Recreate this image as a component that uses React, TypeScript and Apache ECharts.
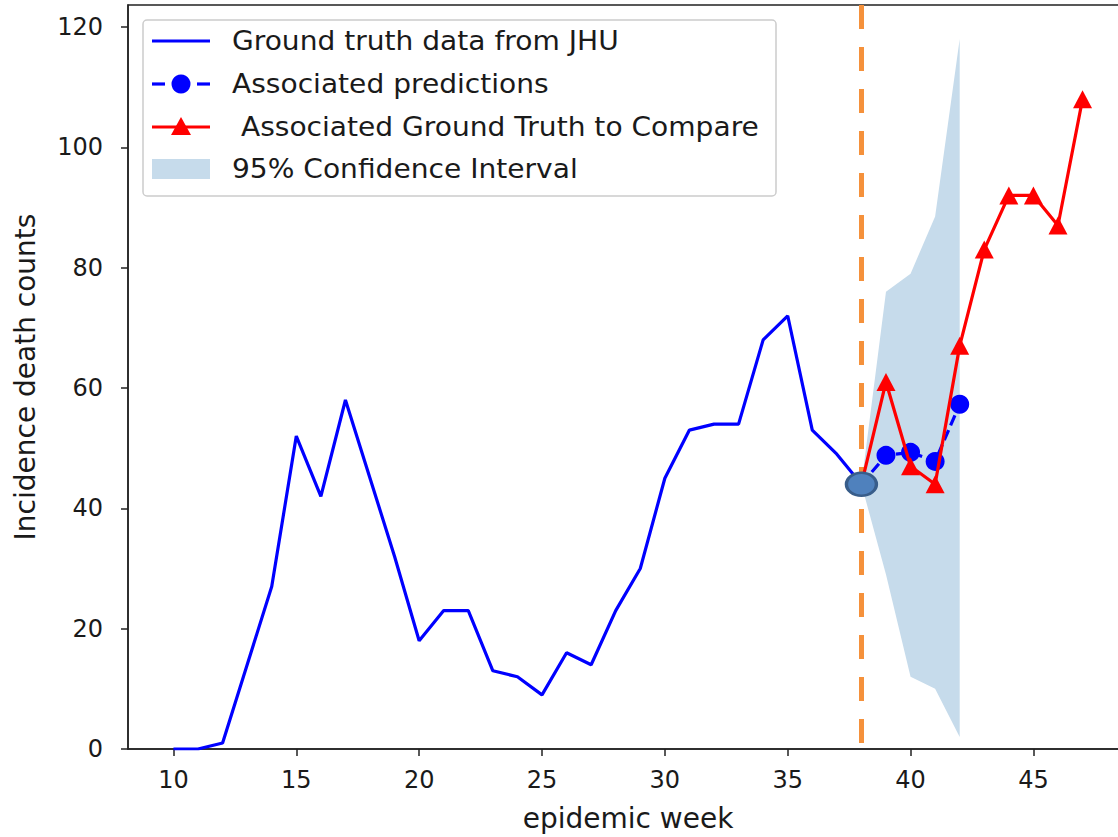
import React, { useEffect, useRef } from "react";
import * as echarts from "echarts";

// Weekly incidence deaths (JHU ground truth)
const truthWeeks = [10, 11, 12, 13, 14, 15, 16, 17, 18, 19, 20, 21, 22, 23, 24, 25, 26, 27, 28, 29, 30, 31, 32, 33, 34, 35, 36, 37, 38];
const truthDeaths = [0, 0, 1, 14, 27, 52, 42, 58, 45, 32, 18, 23, 23, 13, 12, 9, 16, 14, 23, 30, 45, 53, 54, 54, 68, 72, 53, 49, 44];

// Forecast made at week 38
const predWeeks = [38, 39, 40, 41, 42];
const predDeaths = [44, 48.8, 49.3, 47.8, 57.3];
const ciLower = [44, 29, 12, 10, 2];
const ciUpper = [44, 76, 79, 88.5, 118];

// Observed values for the forecast horizon
const compareWeeks = [38, 39, 40, 41, 42, 43, 44, 45, 46, 47];
const compareDeaths = [44, 61, 47, 44, 67, 83, 92, 92, 87, 108];

const forecastWeek = 38;
const xTicks = [10, 15, 20, 25, 30, 35, 40, 45];
const yTicks = [0, 20, 40, 60, 80, 100, 120];

const legendLabels = [
  "Ground truth data from JHU",
  "Associated predictions",
  " Associated Ground Truth to Compare",
  "95% Confidence Interval",
];

const FONT = "'DejaVu Sans', Verdana, sans-serif";
const TEXT = "#1a1a1a";
const CI_FILL = "#c6dbeb";

export default function App() {
  const ref = useRef<HTMLDivElement>(null);

  useEffect(() => {
    if (!ref.current) return;
    const chart = echarts.init(ref.current, undefined, { renderer: "svg" });

    const ciData = predWeeks.map((w, i) => [w, ciLower[i], ciUpper[i]]);

    const legendX = 152;
    const rowY = [41, 84, 127, 169];

    const option: any = {
      animation: false,
      backgroundColor: "#ffffff",
      grid: {
        left: 128,
        top: 5,
        width: 1000,
        height: 746,
        show: true,
        borderColor: "#222",
        borderWidth: 1.5,
        backgroundColor: "transparent",
      },
      xAxis: {
        type: "value",
        min: 8.15,
        max: 48.85,
        name: "epidemic week",
        nameLocation: "middle",
        nameGap: 55,
        nameTextStyle: { fontFamily: FONT, fontSize: 28, color: TEXT },
        axisLine: { show: true, lineStyle: { color: "#222", width: 1.5 } },
        axisTick: { show: true, length: 7, lineStyle: { color: "#222", width: 1.5 }, customValues: xTicks },
        axisLabel: { fontFamily: FONT, fontSize: 24, color: TEXT, margin: 19, customValues: xTicks },
        splitLine: { show: false },
      },
      yAxis: {
        type: "value",
        min: 0,
        max: 123.65,
        name: "Incidence death counts",
        nameLocation: "middle",
        nameGap: 89,
        nameRotate: 90,
        nameTextStyle: { fontFamily: FONT, fontSize: 28, color: TEXT },
        axisLine: { show: true, lineStyle: { color: "#222", width: 1.5 } },
        axisTick: { show: true, length: 7, lineStyle: { color: "#222", width: 1.5 }, customValues: yTicks },
        axisLabel: { fontFamily: FONT, fontSize: 24, color: TEXT, margin: 25, customValues: yTicks },
        splitLine: { show: false },
      },
      series: [
        {
          name: legendLabels[3],
          type: "custom",
          z: 1,
          data: ciData,
          encode: { x: 0, y: [1, 2] },
          renderItem: (params: any, api: any) => {
            if (params.dataIndex !== 0) return null;
            const top = predWeeks.map((w, i) => api.coord([w, ciUpper[i]]));
            const bottom = predWeeks.map((w, i) => api.coord([w, ciLower[i]])).reverse();
            return {
              type: "polygon",
              shape: { points: top.concat(bottom) },
              style: { fill: CI_FILL, stroke: "none" },
            };
          },
        },
        {
          name: legendLabels[0],
          type: "line",
          z: 3,
          data: truthWeeks.map((w, i) => [w, truthDeaths[i]]),
          showSymbol: false,
          symbol: "none",
          lineStyle: { color: "#0000ff", width: 3.2 },
          markLine: {
            silent: true,
            symbol: "none",
            label: { show: false },
            lineStyle: { color: "#f5913b", width: 5, type: [24, 18], dashOffset: 36, cap: "butt" },
            data: [{ xAxis: forecastWeek }],
          },
        },
        {
          name: legendLabels[1],
          type: "line",
          z: 4,
          data: predWeeks.map((w, i) => [w, predDeaths[i]]),
          symbol: "circle",
          symbolSize: 19,
          itemStyle: { color: "#0000ff" },
          lineStyle: { color: "#0000ff", width: 3.2, type: [11, 5] },
        },
        {
          name: legendLabels[2],
          type: "line",
          z: 5,
          data: compareWeeks.map((w, i) => [w, compareDeaths[i]]),
          symbol: "triangle",
          symbolSize: [19, 18],
          itemStyle: { color: "#ff0000" },
          lineStyle: { color: "#ff0000", width: 3.2 },
        },
        {
          name: "forecast start",
          type: "scatter",
          z: 6,
          data: [[forecastWeek, truthDeaths[truthDeaths.length - 1]]],
          symbol: "path://M0 50A50 50 0 1 1 100 50A50 50 0 1 1 0 50Z",
          symbolSize: [30, 23],
          itemStyle: { color: "#4f81bd", borderColor: "#385d8a", borderWidth: 3, opacity: 1 },
        },
      ],
      graphic: [
        {
          type: "group",
          z: 100,
          children: [
            {
              type: "rect",
              shape: { x: 143, y: 20, width: 633, height: 176, r: 4 },
              style: { fill: "rgba(255,255,255,0.85)", stroke: "#cccccc", lineWidth: 1.5 },
            },
            {
              type: "line",
              shape: { x1: legendX, y1: rowY[0], x2: legendX + 58, y2: rowY[0] },
              style: { stroke: "#0000ff", lineWidth: 3.2 },
            },
            {
              type: "line",
              shape: { x1: legendX, y1: rowY[1], x2: legendX + 13, y2: rowY[1] },
              style: { stroke: "#0000ff", lineWidth: 3.2 },
            },
            {
              type: "line",
              shape: { x1: legendX + 45, y1: rowY[1], x2: legendX + 58, y2: rowY[1] },
              style: { stroke: "#0000ff", lineWidth: 3.2 },
            },
            {
              type: "circle",
              shape: { cx: legendX + 29, cy: rowY[1], r: 9.5 },
              style: { fill: "#0000ff" },
            },
            {
              type: "line",
              shape: { x1: legendX, y1: rowY[2], x2: legendX + 58, y2: rowY[2] },
              style: { stroke: "#ff0000", lineWidth: 3.2 },
            },
            {
              type: "polygon",
              shape: {
                points: [
                  [legendX + 29, rowY[2] - 10],
                  [legendX + 39, rowY[2] + 8],
                  [legendX + 19, rowY[2] + 8],
                ],
              },
              style: { fill: "#ff0000" },
            },
            {
              type: "rect",
              shape: { x: legendX, y: rowY[3] - 10, width: 58, height: 20 },
              style: { fill: CI_FILL },
            },
            ...legendLabels.map((label, i) => ({
              type: "text",
              x: 232,
              y: rowY[i],
              scaleX: 1.06,
              style: {
                text: label,
                fontFamily: FONT,
                fontSize: 26.5,
                fill: TEXT,
                verticalAlign: "middle",
                align: "left",
              },
            })),
          ],
        },
      ],
    };

    chart.setOption(option);
    return () => chart.dispose();
  }, []);

  return (
    <div style={{ position: "fixed", left: 0, top: 0, width: 1118, height: 837, overflow: "hidden", background: "#fff" }}>
      <div ref={ref} style={{ width: 1140, height: 837 }} />
    </div>
  );
}
